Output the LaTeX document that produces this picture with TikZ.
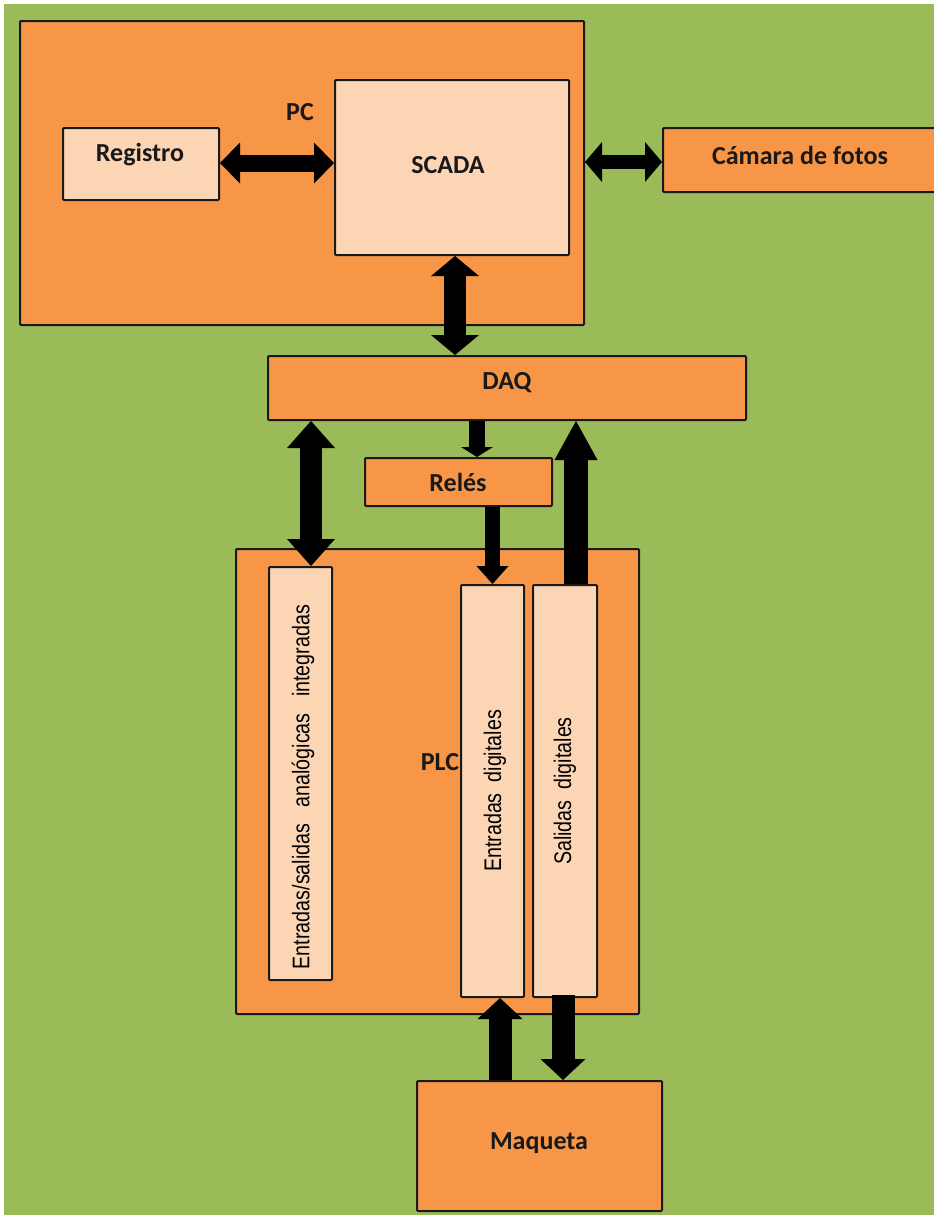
\documentclass[tikz,border=0pt]{standalone}
\usepackage{fontspec}
\setmainfont{Carlito}
\newfontfamily\narrowsans{Liberation Sans}
\usetikzlibrary{arrows.meta,calc}

\definecolor{leaf}{HTML}{9BBB59}
\definecolor{amber}{HTML}{F79646}
\definecolor{peach}{HTML}{FCD5B4}

% block-arrow heads (width / length in px)
\tikzset{
  hdA/.tip={Triangle[width=41pt,length=20pt,line width=0pt]},
  hdB/.tip={Triangle[width=40pt,length=17pt,line width=0pt]},
  hdC/.tip={Triangle[width=48pt,length=20pt,line width=0pt]},
  hdD/.tip={Triangle[width=32pt,length=10pt,line width=0pt]},
  hdE/.tip={Triangle[width=48pt,length=27pt,line width=0pt]},
  hdF/.tip={Triangle[width=32pt,length=18pt,line width=0pt]},
  hdG/.tip={Triangle[width=43pt,length=39pt,line width=0pt]},
  hdH/.tip={Triangle[width=45pt,length=21pt,line width=0pt]},
}

\begin{document}
\begin{tikzpicture}[x=1pt,y=-1pt,
  box/.style={draw=black!90, line width=2pt, fill=amber, inner sep=0pt, rounded corners=1pt},
  lightbox/.style={box, fill=peach},
  lbl/.style={font=\fontsize{26}{28}\selectfont\bfseries, text=black!90, inner sep=0pt},
  vlbl/.style={font=\fontsize{24}{26}\selectfont\narrowsans, text=black, rotate=90, inner sep=0pt},
  bus/.style={draw=black, line width=#1},
]
% page and background
\fill[white] (0,0) rectangle (934,1221);
\fill[leaf] (4,4) rectangle (934,1215);
\useasboundingbox (0,0) rectangle (934,1221);

% PC
\node[box, minimum width=564pt, minimum height=304pt] (pc) at (302,173) {};
\node[lbl] (pctext) at (300,112) {PC};
\node[lightbox, minimum width=234pt, minimum height=175pt] (scada) at (452,167.5) {};
\node[lbl] (scadatext) at (448,165) {SCADA};
\node[lightbox, minimum width=156pt, minimum height=72pt] (registro) at (141,164) {};
\node[lbl] (registrotext) at (140,155) {Registro};

% camera (runs off the right edge)
\node[box, minimum width=290pt, minimum height=64pt] (camara) at (808,160) {};
\node[lbl] (camaratext) at (800,155) {Cámara de fotos};

% DAQ and relays
\node[box, minimum width=478pt, minimum height=64pt] (daq) at (507,388) {};
\node[lbl] (daqtext) at (507,383) {DAQ};
\node[box, minimum width=187pt, minimum height=48pt] (reles) at (458.5,482) {};
\node[lbl] (relestext) at (458,482) {Relés};

% PLC with its I/O modules
\node[box, minimum width=403pt, minimum height=465pt] (plc) at (437.5,781.5) {};
\node[lbl] (plctext) at (440,762) {PLC};
\node[lightbox, minimum width=63pt, minimum height=413pt] (analog) at (300.5,773.5) {};
\node[vlbl] (analogtext) at (303,787) {\scalebox{0.82}[1]{Entradas/salidas\ \ \ analógicas\ \ \ integradas}};
\node[lightbox, minimum width=63pt, minimum height=412pt] (edig) at (492.5,791) {};
\node[vlbl] (edigtext) at (495,791) {\scalebox{0.82}[1]{Entradas\ \ digitales}};
\node[lightbox, minimum width=64pt, minimum height=412pt] (sdig) at (565,791) {};
\node[vlbl] (sdigtext) at (565,791) {\scalebox{0.82}[1]{Salidas\ \ digitales}};

% plant model
\node[box, minimum width=245pt, minimum height=130pt] (maqueta) at (539.5,1146) {};
\node[lbl] (maquetatext) at (539,1143) {Maqueta};

% connections
\draw[bus=17pt, hdA-hdA] ($(registro.east)+(0,-1)$) -- ($(registro.east -| scada.west)+(0,-1)$);
\draw[bus=14pt, hdB-hdB] ($(camara.west -| pc.east)+(0,2)$) -- ($(camara.west)+(0,2)$);
\draw[bus=22pt, hdC-hdC] ($(scada.south)+(3,0)$) -- ($(scada.south |- daq.north)+(3,0)$);
\draw[bus=16pt, -hdD] ($(reles.north |- daq.south)+(18.5,0)$) -- ($(reles.north)+(18.5,0)$);
\draw[bus=22pt, hdE-hdE] ($(analog.north |- daq.south)+(10.5,0)$) -- ($(analog.north)+(10.5,0)$);
\draw[bus=15pt, -hdF] (reles.south -| edig.north) -- (edig.north);
\draw[bus=24pt, -hdG] ($(sdig.north)+(11,0)$) -- ($(sdig.north |- daq.south)+(11,0)$);
\draw[bus=23pt, -hdH] ($(edig.south |- maqueta.north)+(7.5,0)$) -- ($(edig.south)+(7.5,0)$);
\draw[bus=23pt, -hdH] ($(sdig.south)+(-2,-3)$) -- ($(sdig.south |- maqueta.north)+(-2,0)$);
\end{tikzpicture}
\end{document}
